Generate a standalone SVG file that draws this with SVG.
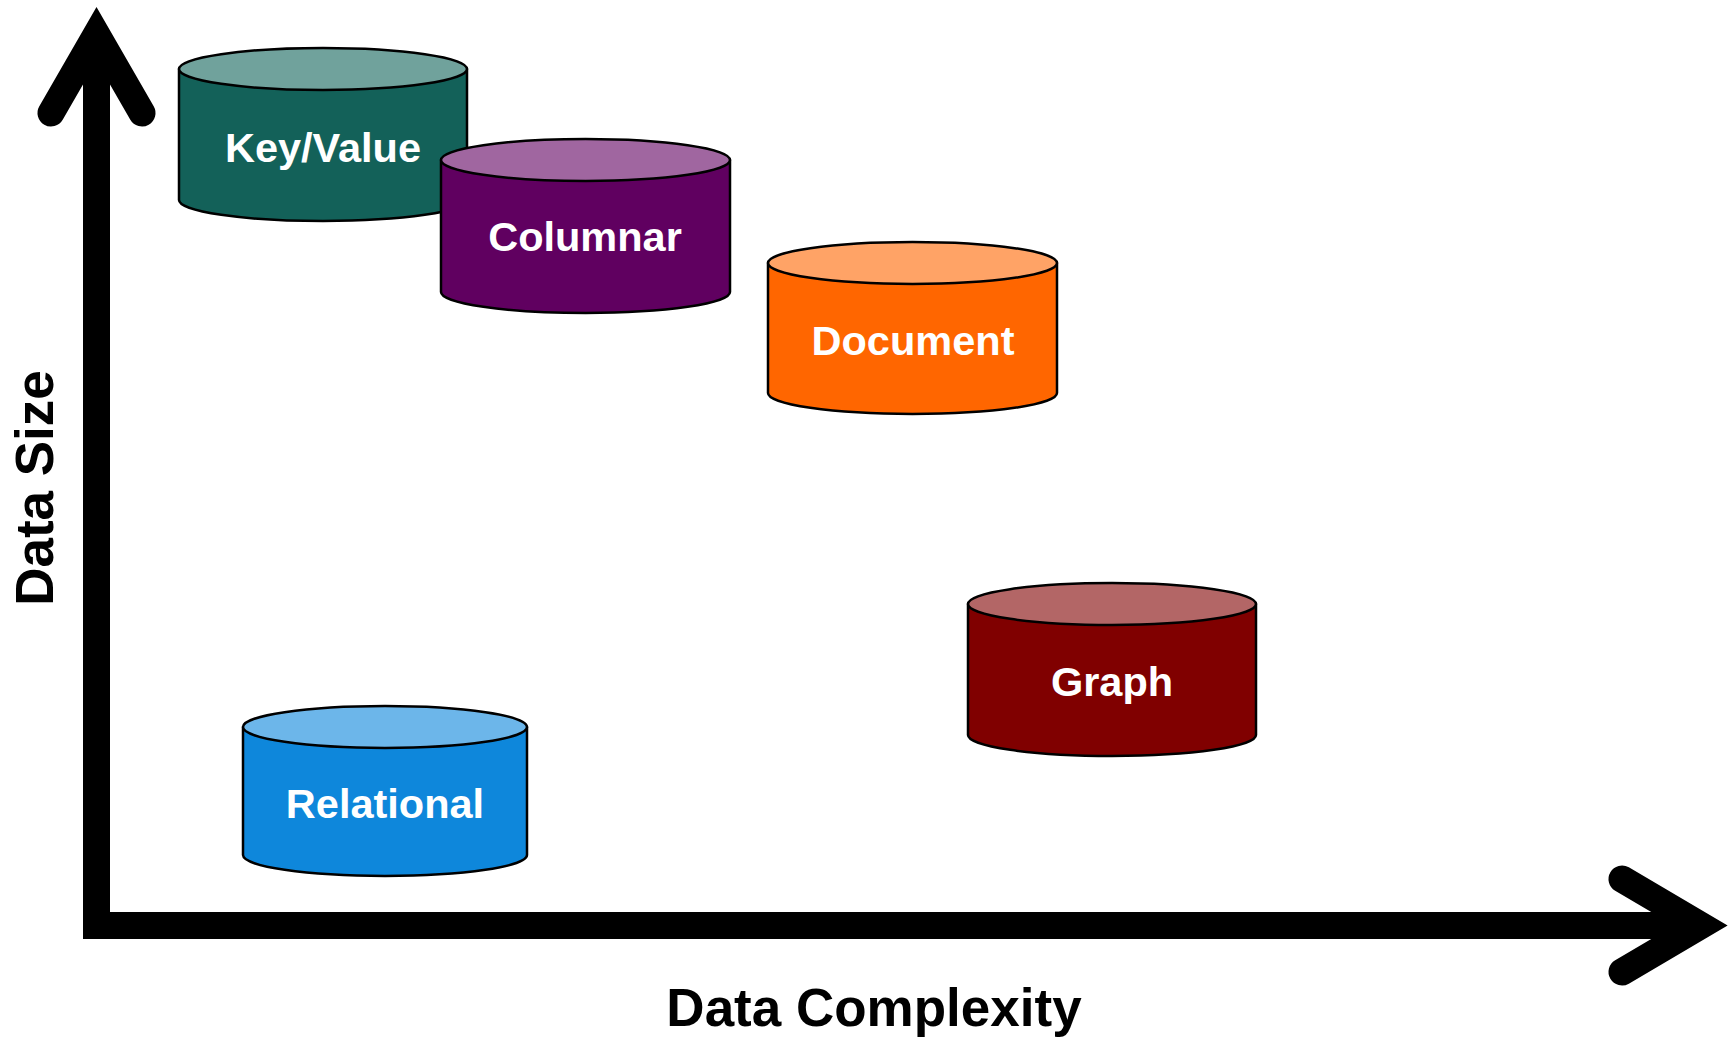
<svg xmlns="http://www.w3.org/2000/svg" width="1733" height="1038" viewBox="0 0 1733 1038">
<style>
.cyl{stroke:#000;stroke-width:2.5;stroke-linejoin:round}
.lbl{font-family:"Liberation Sans",Arial,sans-serif;font-weight:bold;font-size:41.5px;fill:#fff;text-anchor:middle}
.axis{font-family:"Liberation Sans",Arial,sans-serif;font-weight:bold;font-size:53px;fill:#000;text-anchor:middle}
.shaft{stroke:#000;stroke-width:27;fill:none}
.head{stroke:#000;stroke-width:27;fill:none;stroke-linejoin:miter;stroke-linecap:round;stroke-miterlimit:4}
</style>
<rect width="1733" height="1038" fill="#fff"/>
<g id="connectors">
<line class="shaft" x1="96.5" y1="939" x2="96.5" y2="36"/>
<polyline class="head" points="51,113 96.5,34 142,113"/>
<line class="shaft" x1="96.5" y1="925.5" x2="1699" y2="925.5"/>
<polyline class="head" points="1622,879 1701,925.5 1622,972"/>
</g>
<g id="keyvalue">
<path class="cyl" fill="#136159" d="M179,69 V200 A144,21 0 0 0 467,200 V69 Z"/>
<ellipse class="cyl" fill="#70A29C" cx="323" cy="69" rx="144" ry="21"/>
<text class="lbl" x="323" y="162">Key/Value</text>
</g>
<g id="columnar">
<path class="cyl" fill="#600060" d="M441,160 V292 A144.5,21 0 0 0 730,292 V160 Z"/>
<ellipse class="cyl" fill="#A066A0" cx="585.5" cy="160" rx="144.5" ry="21"/>
<text class="lbl" x="585" y="251">Columnar</text>
</g>
<g id="document">
<path class="cyl" fill="#FF6600" d="M768,263 V393 A144.5,21 0 0 0 1057,393 V263 Z"/>
<ellipse class="cyl" fill="#FFA366" cx="912.5" cy="263" rx="144.5" ry="21"/>
<text class="lbl" x="913" y="355">Document</text>
</g>
<g id="graph">
<path class="cyl" fill="#800000" d="M968,604 V735 A144,21 0 0 0 1256,735 V604 Z"/>
<ellipse class="cyl" fill="#B36666" cx="1112" cy="604" rx="144" ry="21"/>
<text class="lbl" x="1112" y="696">Graph</text>
</g>
<g id="relational">
<path class="cyl" fill="#0E87DB" d="M243,727 V855 A142,21 0 0 0 527,855 V727 Z"/>
<ellipse class="cyl" fill="#6CB6EA" cx="385" cy="727" rx="142" ry="21"/>
<text class="lbl" x="385" y="818">Relational</text>
</g>
<g id="label-x">
<text class="axis" x="874" y="1026">Data Complexity</text>
</g>
<g id="label-y">
<text class="axis" transform="translate(53,488) rotate(-90)">Data Size</text>
</g>
</svg>
